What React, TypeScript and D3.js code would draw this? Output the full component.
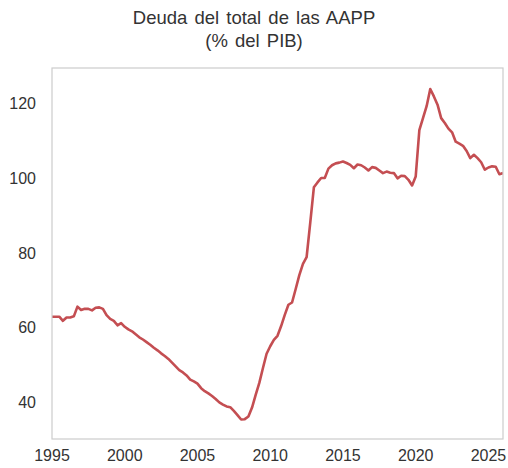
import React from "react";
import * as d3 from "d3";

// Quarterly series, first point = 1995 Q1
const startYear = 1995;
const debtPct: number[] = [
  // 1995
  62.9, 62.9, 62.9, 61.8,
  // 1996
  62.7, 62.7, 63.0, 65.6,
  // 1997
  64.7, 65.0, 65.0, 64.6,
  // 1998
  65.3, 65.4, 65.0, 63.3,
  // 1999
  62.3, 61.8, 60.6, 61.2,
  // 2000
  60.2, 59.5, 59.0, 58.2,
  // 2001
  57.4, 56.8, 56.1, 55.4,
  // 2002
  54.6, 53.9, 53.1, 52.4,
  // 2003
  51.6, 50.6, 49.6, 48.6,
  // 2004
  48.0, 47.2, 46.1, 45.6,
  // 2005
  45.0, 43.8, 43.0, 42.4,
  // 2006
  41.7, 40.9, 40.0, 39.4,
  // 2007
  38.9, 38.7, 37.7, 36.6,
  // 2008
  35.4, 35.5, 36.2, 38.6,
  // 2009
  42.0, 45.2, 49.2, 53.0,
  // 2010
  55.0, 56.7, 57.8, 60.4,
  // 2011
  63.4, 66.1, 66.7, 70.3,
  // 2012
  74.0, 77.0, 78.8, 88.0,
  // 2013
  97.5, 98.8, 100.0, 100.0,
  // 2014
  102.5, 103.4, 103.9, 104.1,
  // 2015
  104.4, 104.0, 103.5, 102.6,
  // 2016
  103.6, 103.4, 102.8, 102.0,
  // 2017
  102.9, 102.7, 102.0, 101.3,
  // 2018
  101.7, 101.4, 101.3, 99.9,
  // 2019
  100.6, 100.5, 99.5, 98.0,
  // 2020
  100.4, 112.8, 116.0, 119.2,
  // 2021
  123.8, 121.8, 119.6, 116.0,
  // 2022
  114.7, 113.2, 112.2, 109.7,
  // 2023
  109.2, 108.6, 107.2, 105.3,
  // 2024
  106.2, 105.3, 104.2, 102.2,
  // 2025
  102.8, 103.1, 103.0, 101.0,
  // 2026
  101.3,
];

const xTicks = [1995, 2000, 2005, 2010, 2015, 2020, 2025];
const yTicks = [40, 60, 80, 100, 120];
const titleLines = ["Deuda del total de las AAPP", "(% del PIB)"];

const W = 508;
const H = 468;
const plot = { left: 52, right: 503, top: 68, bottom: 439 };
const FONT = "'Liberation Sans', Arial, sans-serif";
const TEXT = "#333333";

export default function App() {
  const data = debtPct.map((v, i) => ({ t: startYear + i / 4, v }));
  const x = d3
    .scaleLinear()
    .domain(d3.extent(data, (d) => d.t) as [number, number])
    .range([plot.left, plot.right]);
  const y = d3.scaleLinear().domain([30.2, 129.4]).range([plot.bottom, plot.top]);
  const line = d3
    .line<{ t: number; v: number }>()
    .x((d) => x(d.t))
    .y((d) => y(d.v));

  return (
    <svg
      width={W}
      height={H}
      style={{ position: "absolute", left: 0, top: 0, background: "#fff" }}
      fontFamily={FONT}
    >
      <rect x={0} y={0} width={W} height={H} fill="#fff" />
      {titleLines.map((t, i) => (
        <text
          key={i}
          x={W / 2}
          y={24 + i * 23}
          textAnchor="middle"
          fontSize={18.5}
          wordSpacing={2}
          fill={TEXT}
        >
          {t}
        </text>
      ))}
      <defs>
        <clipPath id="clip">
          <rect
            x={plot.left}
            y={plot.top}
            width={plot.right - plot.left}
            height={plot.bottom - plot.top}
          />
        </clipPath>
      </defs>
      <path
        d={line(data) || ""}
        fill="none"
        stroke="#C44E52"
        strokeWidth={2.6}
        strokeLinejoin="round"
        clipPath="url(#clip)"
      />
      <rect
        x={plot.left}
        y={plot.top}
        width={plot.right - plot.left}
        height={plot.bottom - plot.top}
        fill="none"
        stroke="#cccccc"
        strokeWidth={1.2}
      />
      {yTicks.map((v) => (
        <text
          key={v}
          x={36}
          y={y(v)}
          dy="0.36em"
          textAnchor="end"
          fontSize={16}
          fill={TEXT}
        >
          {v}
        </text>
      ))}
      {xTicks.map((t) => (
        <text
          key={t}
          x={x(t)}
          y={461}
          textAnchor="middle"
          fontSize={16}
          fill={TEXT}
        >
          {t}
        </text>
      ))}
    </svg>
  );
}
